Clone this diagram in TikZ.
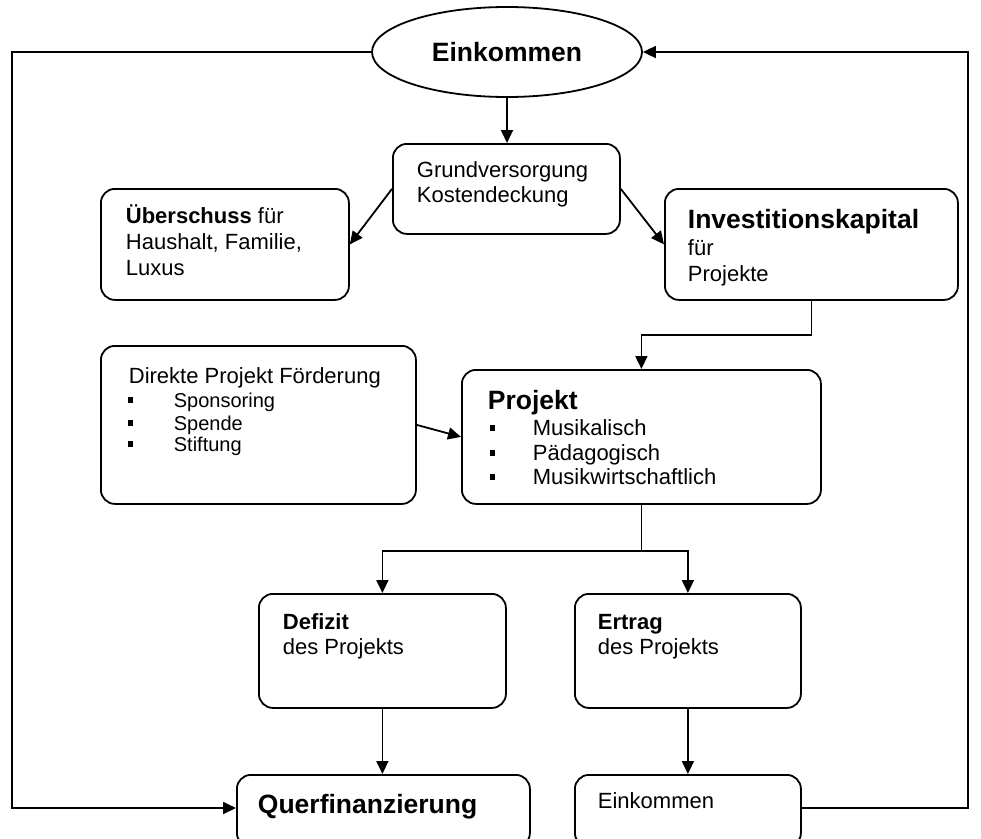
\documentclass[tikz,border=0pt]{standalone}
\usepackage{fontspec}
\setmainfont{Liberation Sans}
\usetikzlibrary{arrows.meta,shapes.geometric}
\begin{document}
\begin{tikzpicture}[x=1pt,y=-1pt,
  line width=1.8pt,
  box/.style={draw, rounded corners=14pt, anchor=north west, inner sep=0pt},
  txt/.style={anchor=base west, inner sep=0pt, font=\fontsize{22}{25}\selectfont},
  smalltxt/.style={anchor=base west, inner sep=0pt, font=\fontsize{20}{22}\selectfont},
  bigtxt/.style={anchor=base west, inner sep=0pt, font=\fontsize{26.5}{30}\selectfont\bfseries},
  bul/.style={fill, minimum width=5pt, minimum height=6pt, inner sep=0pt},
  arr/.style={-{Triangle[length=13pt,width=12pt]}}
]
\useasboundingbox (0,0) rectangle (981,838);
\clip (0,0) rectangle (981,838);

% --- boxes ---
\node[draw, ellipse, minimum width=270pt, minimum height=90pt, inner sep=0pt,
      font=\fontsize{26.5}{30}\selectfont\bfseries] (eink) at (507,52) {Einkommen};
\node[box, minimum width=227pt, minimum height=90pt]  (grund)   at (392,143) {};
\node[box, minimum width=248pt, minimum height=111pt] (ueber)   at (100,188) {};
\node[box, minimum width=293pt, minimum height=111pt] (inv)     at (664,188) {};
\node[box, minimum width=315pt, minimum height=158pt] (direkt)  at (100,345) {};
\node[box, minimum width=359pt, minimum height=134pt] (proj)    at (461,369) {};
\node[box, minimum width=247pt, minimum height=114pt] (defizit) at (258,593) {};
\node[box, minimum width=226pt, minimum height=114pt] (ertrag)  at (574,593) {};
\node[box, minimum width=293pt, minimum height=72pt]  (querf)   at (236,774) {};
\node[box, minimum width=226pt, minimum height=72pt]  (eink2)   at (574,774) {};

% --- texts ---
\node[txt] (g1) at (416,177) {Grundversorgung};
\node[txt] (g2) at (416,202) {Kostendeckung};

\node[txt] (u1) at (125,223) {\textbf{Überschuss} für};
\node[txt] (u2) at (125,249) {Haushalt, Familie,};
\node[txt] (u3) at (125,275) {Luxus};

\node[bigtxt] (i1) at (687,228) {Investitionskapital};
\node[txt] (i2) at (687,255) {für};
\node[txt] (i3) at (687,281) {Projekte};

\node[txt] (d0) at (128,383) {Direkte Projekt Förderung};
\node[bul] (db1) at (130.5,400) {};
\node[bul] (db2) at (130.5,423) {};
\node[bul] (db3) at (130.5,444) {};
\node[smalltxt] (d1) at (173,407) {Sponsoring};
\node[smalltxt] (d2) at (173,430) {Spende};
\node[smalltxt] (d3) at (173,451) {Stiftung};

\node[bigtxt] (p0) at (487,409) {Projekt};
\node[bul] (pb1) at (492,428) {};
\node[bul] (pb2) at (492,453) {};
\node[bul] (pb3) at (492,477) {};
\node[txt] (p1) at (532,435) {Musikalisch};
\node[txt] (p2) at (532,460) {Pädagogisch};
\node[txt] (p3) at (532,484) {Musikwirtschaftlich};

\node[txt] (f1) at (282,629) {\textbf{Defizit}};
\node[txt] (f2) at (282,654) {des Projekts};

\node[txt] (e1) at (597,629) {\textbf{Ertrag}};
\node[txt] (e2) at (597,654) {des Projekts};

\node[bigtxt] (q1) at (257,813) {Querfinanzierung};
\node[txt] (k1) at (597,808) {Einkommen};

% --- connectors ---
\coordinate (lc) at (12,808);
\coordinate (rc) at (968,808);

\draw[arr] (eink.south) -- (eink.south |- grund.north);
\draw[arr] (grund.west) -- (ueber.east);
\draw[arr] (grund.east) -- (inv.west);
\draw[arr] (inv.south) -- ++(0,34) -| (proj.north);
\draw[arr] (direkt.east) -- (proj.west);
\draw (proj.south) -- ++(0,46) coordinate (split);
\draw[arr] (split) -| (defizit.north);
\draw[arr] (split) -| (ertrag.north);
\draw[arr] (defizit.south) -- (defizit.south |- querf.north);
\draw[arr] (ertrag.south) -- (ertrag.south |- eink2.north);
\draw[arr] (eink.west) -| (lc) -- (lc -| querf.west);
\draw[arr] (rc -| eink2.east) -- (rc) |- (eink.east);
\end{tikzpicture}
\end{document}
